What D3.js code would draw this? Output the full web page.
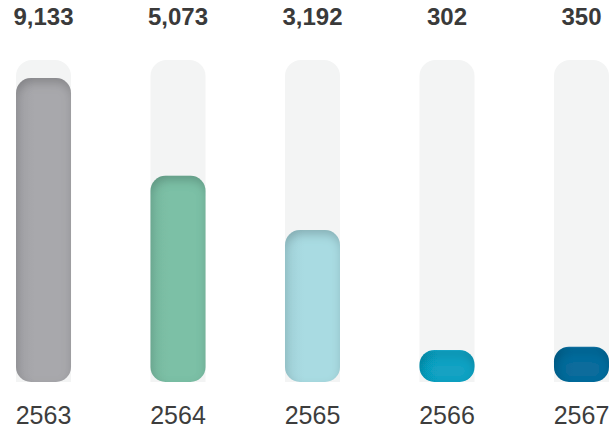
<!DOCTYPE html>
<html><head><meta charset="utf-8">
<script src="https://cdn.jsdelivr.net/npm/d3@7"></script>
<style>html,body{margin:0;padding:0;background:#fff;}svg{display:block;}</style>
</head><body>
<svg id="chart" width="615" height="429"></svg>
<script>
const years = ["2563", "2564", "2565", "2566", "2567"];
const values = [9133, 5073, 3192, 302, 350];
const colors = ["#a8a8ac", "#7cc0a6", "#a9dbe2", "#12a2c3", "#0b6c9c"];
const labels = ["9,133", "5,073", "3,192", "302", "350"];

const svg = d3.select("#chart");
const x = d3.scaleBand().domain(years).range([16, 609]).paddingInner(0.591).paddingOuter(0);
const y = d3.scalePow().exponent(0.66).domain([0, d3.max(values)]).range([382, 78]);
const trackTop = y(d3.max(values)) - 18;

const defs = svg.append("defs");
const f = defs.append("filter").attr("id", "inner").attr("x", "-10%").attr("y", "-10%").attr("width", "120%").attr("height", "120%");
f.append("feFlood").attr("flood-color", "#000").attr("flood-opacity", 0.38).attr("result", "fl");
f.append("feComposite").attr("in", "fl").attr("in2", "SourceAlpha").attr("operator", "out").attr("result", "inv");
f.append("feGaussianBlur").attr("in", "inv").attr("stdDeviation", 5).attr("result", "bl");
f.append("feOffset").attr("in", "bl").attr("dx", 1).attr("dy", 5).attr("result", "of");
f.append("feComposite").attr("in", "of").attr("in2", "SourceAlpha").attr("operator", "in").attr("result", "sh");
const m = f.append("feMerge");
m.append("feMergeNode").attr("in", "SourceGraphic");
m.append("feMergeNode").attr("in", "sh");

colors.forEach((c, i) => {
  const g = defs.append("linearGradient").attr("id", "hg" + i).attr("x1", 0).attr("x2", 1).attr("y1", 0).attr("y2", 0);
  g.append("stop").attr("offset", "0%").attr("stop-color", d3.color(c).darker(0.12));
  g.append("stop").attr("offset", "35%").attr("stop-color", c);
  g.append("stop").attr("offset", "100%").attr("stop-color", c);
});

// tracks
svg.selectAll("rect.track").data(years).join("rect")
  .attr("class", "track")
  .attr("x", d => x(d)).attr("width", x.bandwidth())
  .attr("y", trackTop).attr("height", 382 - trackTop)
  .attr("rx", 16).attr("fill", "#f3f4f4");
svg.selectAll("rect.trackb").data(years).join("rect")
  .attr("class", "trackb")
  .attr("x", d => x(d)).attr("width", x.bandwidth())
  .attr("y", 360).attr("height", 22).attr("fill", "#f3f4f4");

// bars
svg.selectAll("rect.bar").data(values).join("rect")
  .attr("class", "bar")
  .attr("x", (d, i) => x(years[i])).attr("width", x.bandwidth())
  .attr("y", d => y(d)).attr("height", d => 382 - y(d))
  .attr("rx", d => Math.min(15, (382 - y(d)) / 2))
  .attr("fill", (d, i) => `url(#hg${i})`)
  .attr("filter", "url(#inner)");

// value labels
svg.selectAll("text.val").data(labels).join("text")
  .attr("class", "val")
  .attr("x", (d, i) => x(years[i]) + x.bandwidth() / 2).attr("y", 25)
  .attr("text-anchor", "middle")
  .attr("font-family", "'Liberation Sans', Arial, sans-serif")
  .attr("font-weight", "bold").attr("font-size", 24)
  .attr("fill", "#3a3a3a")
  .text(d => d);

// year axis labels
const xAxis = d3.axisBottom(x).tickSize(0).tickPadding(0);
const ax = svg.append("g").attr("transform", "translate(0,400)").call(xAxis);
ax.select(".domain").remove();
ax.selectAll("text")
  .attr("y", 24).attr("dy", 0)
  .attr("font-family", "'Liberation Sans', Arial, sans-serif")
  .attr("font-size", 25).attr("fill", "#3d3d3d");
</script>
</body></html>
